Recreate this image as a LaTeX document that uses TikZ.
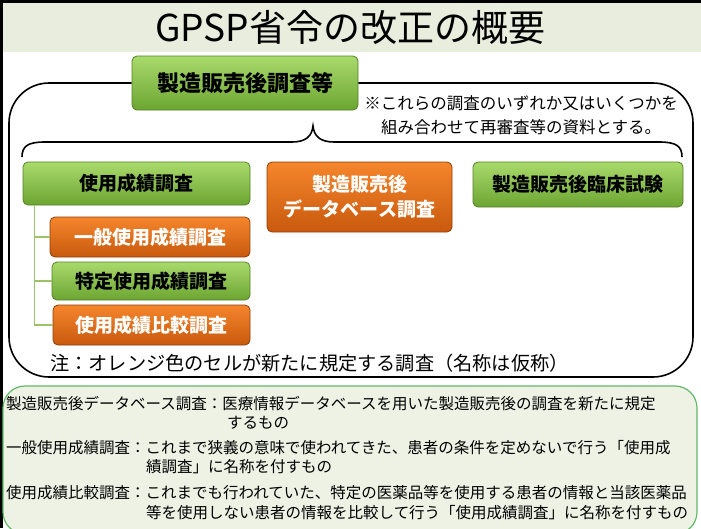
\documentclass[tikz,border=0pt]{standalone}
\usepackage{fontspec}
\setmainfont{Noto Sans CJK JP}
\usetikzlibrary{calc, positioning}
\definecolor{cGrnTop}{HTML}{A9DA6C}
\definecolor{cGrnBot}{HTML}{6CA532}
\definecolor{cGrnLine}{HTML}{557F26}
\definecolor{cOrgTop}{HTML}{F5862C}
\definecolor{cOrgBot}{HTML}{C9590D}
\definecolor{cOrgLine}{HTML}{8E3F0C}
\definecolor{cTitle}{HTML}{E9EDDD}
\definecolor{cPanel}{HTML}{EEF2E5}
\definecolor{cPanelLine}{HTML}{62B968}
\definecolor{cBranch}{HTML}{9CC36A}
\tikzset{
    box/.style={draw, line width=0.8pt, rounded corners=5pt, align=center,
                font=\bfseries\fontsize{19}{25}\selectfont, inner sep=2pt},
    grn/.style={box, draw=cGrnLine, top color=cGrnTop, bottom color=cGrnBot, text=black},
    org/.style={box, draw=cOrgLine, top color=cOrgTop, bottom color=cOrgBot, text=white},
    frame/.style={line width=1.6pt, rounded corners=40pt},
    brace/.style={line width=1.6pt},
    branch/.style={line width=1.4pt, cBranch},
    note/.style={font=\fontsize{16.5}{24}\selectfont, inner sep=0pt, align=center},
    expl/.style={font=\fontsize{15.5}{18}\selectfont, anchor=west, inner sep=0pt},
}
\begin{document}
\begin{tikzpicture}[x=1pt, y=-1pt]
\useasboundingbox (0,0) rectangle (701,528);

% cabecera
\fill[cTitle] (0,0) rectangle (701,52);
\fill[black] (0,0) rectangle (701,3);
\fill[black] (0,0) rectangle (3,528);
\node[font=\fontsize{37}{40}\selectfont] (title) at (350,27) {GPSP省令の改正の概要};

% marco de los estudios
\node[grn, minimum width=226pt, minimum height=54pt, font=\bfseries\fontsize{22}{26}\selectfont]
     (tot) at (245,83) {製造販売後調査等};
\draw[frame] (tot.west) -- (9,83) -- (9,377) -- (693,377) -- (693,83) -- (tot.east);
\node[note] (remark) at (521,115) {※これらの調査のいずれか又はいくつかを\\組み合わせて再審査等の資料とする。};

\draw[brace] (22,157) .. controls (22,146) and (28,142) .. (45,142) -- (292,142)
     .. controls (306,142) and (312,136) .. (313,126)
     .. controls (314,136) and (320,142) .. (334,142) -- (659,142)
     .. controls (676,142) and (682,146) .. (682,157);

\node[grn, minimum width=227pt, minimum height=43pt] (shiyou) at (136.5,183.5) {使用成績調査};
\node[org, minimum width=185pt, minimum height=70pt] (dbase) at (359.5,197) {製造販売後\\データベース調査};
\node[grn, minimum width=210pt, minimum height=45pt] (rinsho) at (578,184.5) {製造販売後臨床試験};

% subtipos del estudio de uso
\node[org, minimum width=200pt, minimum height=40pt] (ippan) at (150,237) {一般使用成績調査};
\node[grn, minimum width=198pt, minimum height=38pt] (tokutei) at (151,281) {特定使用成績調査};
\node[org, minimum width=197pt, minimum height=40pt] (hikaku) at (151.5,325) {使用成績比較調査};
\coordinate (tr) at ($(shiyou.south west)+(12,0)$);
\foreach \n in {hikaku,tokutei,ippan}{\draw[branch] (tr) |- (\n.west);}

\node[note, anchor=west, font=\fontsize{19.2}{22}\selectfont] (legend) at (50,363)
     {注：オレンジ色のセルが新たに規定する調査（名称は仮称）};

% explicacion
\draw[draw=cPanelLine, fill=cPanel, line width=1.2pt, rounded corners=22pt] (3,386) rectangle (697,534);
\node[expl] (dbT) at (6,404) {製造販売後データベース調査：医療情報データベースを用いた製造販売後の調査を新たに規定};
\node[expl] (dbC) at (227,423) {するもの};
\node[expl] (ipT) at (6,448) {一般使用成績調査：これまで狭義の意味で使われてきた、患者の条件を定めないで行う「使用成};
\node[expl] (ipC) at (146,467) {績調査」に名称を付すもの};
\node[expl] (hkT) at (6,493) {使用成績比較調査：これまでも行われていた、特定の医薬品等を使用する患者の情報と当該医薬品};
\node[expl] (hkC) at (146,513) {等を使用しない患者の情報を比較して行う「使用成績調査」に名称を付すもの};

\end{tikzpicture}
\end{document}
